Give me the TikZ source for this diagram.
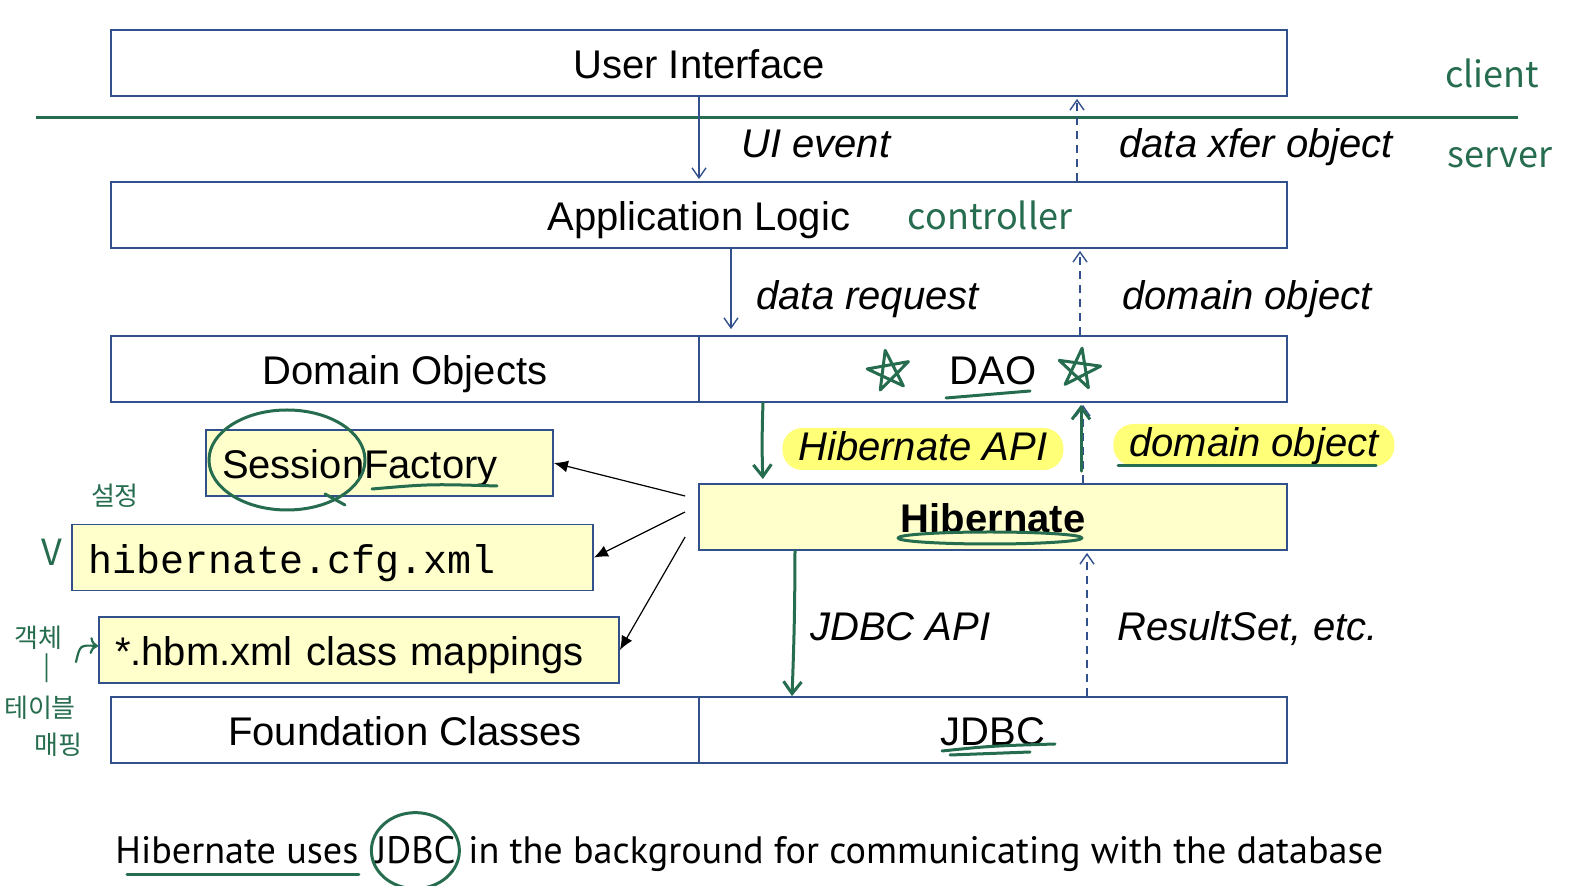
\documentclass[tikz,border=0pt]{standalone}
\usepackage{fontspec}
\setmainfont{Liberation Sans}
\setmonofont{Liberation Mono}
\newfontfamily\notefont{Noto Sans CJK KR}
\newfontfamily\slidefont{PT Sans}
\usetikzlibrary{arrows,arrows.meta,shapes.geometric,calc,positioning}
\definecolor{boxblue}{RGB}{50,80,140}
\definecolor{pengreen}{RGB}{38,108,78}
\definecolor{boxyellow}{RGB}{255,255,204}
\definecolor{hiyellow}{RGB}{255,255,120}
\tikzset{
  tier/.style={draw=boxblue, line width=0.9pt, minimum height=33pt, inner sep=0pt,
    text height=18pt, text depth=2pt, font=\fontsize{20}{24}\selectfont},
  cfgbox/.style={tier, fill=boxyellow, align=left, inner xsep=8pt},
  flow/.style={-{Straight Barb[length=5pt,width=7pt]}, draw=boxblue, line width=0.7pt, shorten >=1pt},
  replyflow/.style={flow, dash pattern=on 4pt off 3pt},
  flowtext/.style={font=\fontsize{20}{24}\selectfont\itshape, anchor=west, inner sep=0pt,
    text height=18pt, text depth=2pt},
  hilite/.style={flowtext, fill=hiyellow, rounded corners=10pt, inner xsep=8pt, minimum height=21pt,
    text height=16pt, text depth=4pt},
  link/.style={-{Latex[length=7pt,width=6pt]}, line width=0.6pt},
  pen/.style={draw=pengreen, line width=1.5pt, line cap=round, line join=round},
  penarrow/.style={pen, -{Straight Barb[length=6pt,width=9pt]}},
  pennote/.style={text=pengreen, font=\notefont\fontsize{18}{20}\selectfont, inner sep=0pt},
  foot/.style={inner sep=0pt, font=\slidefont\fontsize{19.1}{23}\selectfont},
}
\begin{document}
\begin{tikzpicture}[x=0.5pt,y=-0.5pt]
\useasboundingbox (0,0) rectangle (1570,886);
% client / server split
\coordinate (divl) at (36,118);
\coordinate (divr) at (1518,118);
\draw[pen, line cap=butt] (divl) -- (divr);
\node[pennote] (client) at (1492,73) {client};
\node[pennote] (server) at (1500,158) {server};
% layers
\node[tier, minimum width=588pt] (ui) at (699,63) {User Interface};
\node[tier, minimum width=588pt] (app) at (699,215) {Application Logic};
\node[tier, minimum width=294pt] (domobj) at (405,369) {Domain Objects};
\node[tier, minimum width=294pt] (dao) at (993,369) {DAO};
\node[tier, minimum width=294pt, fill=boxyellow, font=\fontsize{20}{24}\selectfont\bfseries] (hib) at (993,517) {Hibernate};
\node[tier, minimum width=294pt] (found) at (405,730) {Foundation Classes};
\node[tier, minimum width=294pt] (jdbc) at (993,730) {JDBC};
\node[pennote] (ctrl) at (990,215) {controller};
% configuration
\node[cfgbox, text width=157.5pt] (sf) at (379.5,463) {SessionFactory};
\node[cfgbox, text width=244.5pt, font=\ttfamily\fontsize{20}{24}\selectfont] (cfg) at (332.5,557.5) {hibernate.cfg.xml};
\node[cfgbox, text width=244pt] (hbm) at (359,650) {*.hbm.xml class mappings};
\coordinate (fan) at ($(hib.west)+(-13,0)$);
\foreach \dy/\target in {-21/sf, -5/cfg, 20/hbm}
  \draw[link] ($(fan)+(0,\dy)$) -- (\target.east);
% calls and results
\coordinate (xfer) at (1077,0);
\coordinate (req) at (731,0);
\coordinate (dobj) at (1080,0);
\coordinate (hapi) at (763,0);
\coordinate (hret) at (1083,0);
\coordinate (japi) at (795,0);
\coordinate (jret) at (1087,0);
\draw[flow] (ui.south) -- (app.north);
\draw[replyflow] (app.north -| xfer) -- (ui.south -| xfer);
\draw[flow, shorten >=3pt] (app.south -| req) -- (dao.north -| req);
\draw[replyflow] (dao.north -| dobj) -- (app.south -| dobj);
\draw[replyflow] (hib.north -| hret) -- (dao.south -| hret);
\draw[replyflow] (jdbc.north -| jret) -- (hib.south -| jret);
\draw[penarrow, shorten >=2pt] (dao.south -| hapi) to[bend right=2] (hib.north -| hapi);
\draw[penarrow] ($(hib.north -| hret)+(-2,-12)$) -- ($(dao.south -| hret)+(-2,2)$);
\draw[penarrow] (hib.south -| japi) to[bend left=1] ($(jdbc.north -| japi)+(-3,0)$);
\node[flowtext] (uiev) at (741,142) {UI event};
\node[flowtext] (xferlbl) at (1119,142) {data xfer object};
\node[flowtext] (reqlbl) at (756,294) {data request};
\node[flowtext] (dobjlbl) at (1122,294) {domain object};
\node[hilite] (hapilbl) at (782,449) {Hibernate API};
\node[hilite] (hretlbl) at (1113,445) {domain object};
\node[flowtext] (japilbl) at (810,625) {JDBC API};
\node[flowtext] (jretlbl) at (1117,625) {ResultSet, etc.};
% pen marks
\foreach \sx/\sy/\tilt in {889/372/10, 1079/370/-8}
  \draw[pen, shift={(\sx,\sy)}, rotate=\tilt] (-90:22) -- (54:20) -- (198:22) -- (342:22) -- (126:20) -- cycle;
\draw[pen] (946,398) -- (1030,391);
\draw[pen] (990,538) ellipse [x radius=46pt, y radius=3pt];
\draw[pen] (942,751) .. controls (990,746) .. (1055,744);
\draw[pen] (950,755) -- (1030,752);
\draw[pen] (372,489) .. controls (430,484) .. (497,486);
\draw[pen] (287,460) ellipse [x radius=39pt, y radius=25pt];
\draw[pen] (325,494) -- (345,505);
\draw[pen] (1118,466) -- (1376,466);
\node[pennote] (check) at (52,552) {V};
\node[pennote, font=\notefont\fontsize{13}{14}\selectfont] (setup) at (115,496) {설정};
\node[pennote, font=\notefont\fontsize{13}{14}\selectfont] (objk) at (38,638) {객체};
\node[pennote, font=\notefont\fontsize{13}{14}\selectfont] (bar) at (47,668) {|};
\node[pennote, font=\notefont\fontsize{13}{14}\selectfont] (tblk) at (40,708) {테이블};
\node[pennote, font=\notefont\fontsize{13}{14}\selectfont] (mapk) at (58,745) {매핑};
\draw[pen, line width=1.1pt, ->] (76,662) .. controls (80,645) .. (98,646);
% footer
\node[foot, anchor=base west] (footA) at (115,864) {Hibernate uses};
\node[foot, base right=8pt of footA] (footjdbc) {JDBC};
\node[foot, base right=6pt of footjdbc] (footB) {in the background for communicating with the database};
\draw[pen] ($(footA.south west)+(12,10)$) -- ($(footA.south east)+(0,10)$);
\draw[pen] (footjdbc.center) ellipse [x radius=22pt, y radius=19pt];
\end{tikzpicture}
\end{document}
